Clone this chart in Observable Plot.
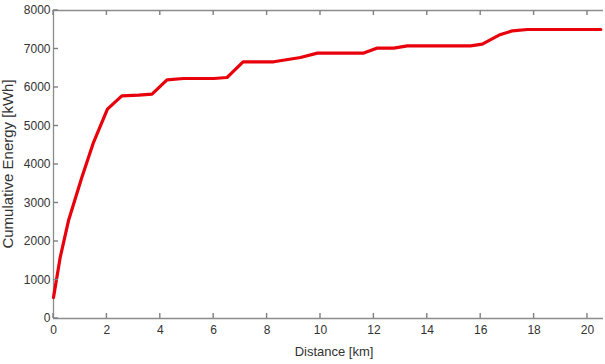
<!DOCTYPE html>
<html>
<head>
<meta charset="utf-8">
<script src="https://cdn.jsdelivr.net/npm/d3@7"></script>
<script src="https://cdn.jsdelivr.net/npm/@observablehq/plot@0.6"></script>
<style>
  html, body { margin: 0; padding: 0; background: #fff; }
  #chart svg { display: block; }
</style>
</head>
<body>
<div id="chart"></div>
<script>
const distance = [0, 0.25, 0.56, 1.06, 1.5, 2.02, 2.56, 3.19, 3.69, 4.25, 4.87, 6.0, 6.5, 6.63, 7.1, 8.25, 9.25, 9.88, 11.62, 12.13, 12.75, 13.25, 14.12, 15.62, 16.06, 16.69, 17.19, 17.75, 20.5];
const energy   = [545, 1584, 2538, 3662, 4575, 5439, 5784, 5803, 5829, 6200, 6234, 6234, 6260, 6348, 6668, 6668, 6779, 6893, 6893, 7023, 7023, 7083, 7083, 7083, 7127, 7361, 7473, 7506, 7506];
const xTicks = [0, 2, 4, 6, 8, 10, 12, 14, 16, 18, 20];
const yTicks = [0, 1000, 2000, 3000, 4000, 5000, 6000, 7000, 8000];
const xDomain = [0, 20.6];
const yDomain = [0, 8000];

const data = distance.map((d, i) => ({distance: d, energy: energy[i]}));
const axisColor = "#8c8c8c";
const textColor = "#333";
const W = 605, H = 364, mL = 53, mR = 2, mT = 10, mB = 46;
const tick = 5;

const chart = Plot.plot({
  width: W,
  height: H,
  marginLeft: mL,
  marginRight: mR,
  marginTop: mT,
  marginBottom: mB,
  style: {fontFamily: "Liberation Sans, Arial, sans-serif", fontSize: "12px", color: textColor, background: "#fff"},
  x: {domain: xDomain, ticks: xTicks},
  y: {domain: yDomain, ticks: yTicks, tickFormat: d3.format("d")},
  marks: [
    Plot.ruleY([yDomain[1]], {stroke: axisColor, strokeWidth: 1.3}),
    Plot.ruleY([yDomain[0]], {stroke: axisColor, strokeWidth: 1.3}),
    Plot.ruleX([xDomain[0]], {stroke: axisColor, strokeWidth: 1.3}),
    Plot.axisX(xTicks, {anchor: "bottom", tickSize: 0, tickPadding: 7, fill: textColor, fontSize: 12, label: null}),
    Plot.axisY(yTicks, {anchor: "left", tickSize: 0, tickPadding: 3, fill: textColor, fontSize: 12, tickFormat: d3.format("d"), label: null}),
    Plot.line(data, {x: "distance", y: "energy", stroke: "#e8000b", strokeWidth: 3.2, strokeLinejoin: "round"})
  ]
});

document.getElementById("chart").append(chart);

const svg = d3.select(chart);
const sx = chart.scale("x"), sy = chart.scale("y");
const yTop = sy.apply(yDomain[1]), yBot = sy.apply(yDomain[0]), xLeft = sx.apply(xDomain[0]);
const tg = svg.append("g").attr("stroke", "#808080").attr("stroke-width", 1.4);
// inward ticks, bottom and top
xTicks.forEach(v => {
  const px = sx.apply(v);
  tg.append("line").attr("x1", px).attr("x2", px).attr("y1", yBot).attr("y2", yBot - tick);
  tg.append("line").attr("x1", px).attr("x2", px).attr("y1", yTop).attr("y2", yTop + tick);
});
// inward ticks, left
yTicks.forEach(v => {
  const py = sy.apply(v);
  tg.append("line").attr("x1", xLeft).attr("x2", xLeft + tick).attr("y1", py).attr("y2", py);
});
// rotated y-axis title
svg.append("text")
  .attr("transform", `translate(13,${(mT + (H - mB)) / 2}) rotate(-90)`)
  .attr("text-anchor", "middle")
  .attr("fill", textColor)
  .style("font-size", "15px")
  .style("font-family", "Liberation Sans, Arial, sans-serif")
  .text("Cumulative Energy [kWh]");
// x-axis title
svg.append("text")
  .attr("x", mL + (W - mL - mR) / 2 + 6)
  .attr("y", H - 8)
  .attr("text-anchor", "middle")
  .attr("fill", textColor)
  .style("font-size", "13px")
  .style("font-family", "Liberation Sans, Arial, sans-serif")
  .text("Distance [km]");
</script>
</body>
</html>
